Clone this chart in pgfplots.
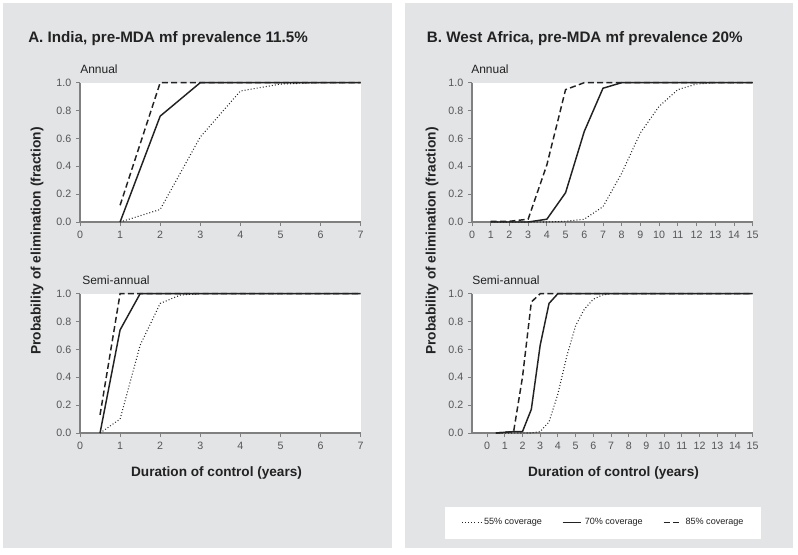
\documentclass[border=0pt]{standalone}
\usepackage{pgfplots}
\pgfplotsset{compat=1.18}
\usepackage{fontspec}
\setmainfont{Liberation Sans}
\definecolor{panelgray}{RGB}{227,228,230}
\definecolor{axgray}{RGB}{128,128,128}
\definecolor{tlgray}{RGB}{85,85,85}
\definecolor{ink}{RGB}{34,34,34}
\pgfplotsset{
  common/.style={
    scale only axis, width=210.5pt, height=104.5pt,
    ymin=0, ymax=1, ytick={0,0.2,0.4,0.6,0.8,1.0},
    yticklabel style={/pgf/number format/.cd, fixed, fixed zerofill, precision=1},
    /pgf/number format/assume math mode=true,
    axis x line*=bottom, axis y line*=left,
    axis line style={axgray, line width=0.8pt, -},
    tick style={axgray, line width=0.6pt},
    tick align=outside, major tick length=3pt,
    ticklabel style={font=\fontsize{8}{9.6}\selectfont, text=tlgray},
    axis background/.style={fill=white},
    clip=false,
  },
  p55/.style={ink, line width=0.8pt, dash pattern=on 0.7pt off 1.6pt},
  p70/.style={ink, line width=1.1pt},
  p85/.style={ink, line width=1.1pt, dash pattern=on 4.5pt off 2.5pt},
}
\begin{document}
\begin{tikzpicture}
\fill[white] (0,0) rectangle (598.5pt,415.5pt);
\fill[panelgray] (2.25pt,4.5pt) rectangle (294pt,413.25pt);
\fill[panelgray] (303.75pt,4.5pt) rectangle (594.75pt,413.25pt);
\fill[white] (333.75pt,11.25pt) rectangle (570.75pt,35.25pt);

% titles
\node[anchor=base west, inner sep=0, text=ink] at (21pt,383.5pt) {\fontsize{11.4}{13}\selectfont\bfseries A. India, pre-MDA mf prevalence 11.5\%};
\node[anchor=base west, inner sep=0, text=ink] at (320pt,383.5pt) {\fontsize{11.4}{13}\selectfont\bfseries B. West Africa, pre-MDA mf prevalence 20\%};
\node[anchor=base west, inner sep=0, text=ink] at (60pt,360pt) {\fontsize{9}{10}\selectfont Annual};
\node[anchor=base west, inner sep=0, text=ink] at (353.25pt,360pt) {\fontsize{9}{10}\selectfont Annual};
\node[anchor=base west, inner sep=0, text=ink] at (61.5pt,202.5pt) {\fontsize{9}{10}\selectfont Semi-annual};
\node[anchor=base west, inner sep=0, text=ink] at (354pt,202.5pt) {\fontsize{9}{10}\selectfont Semi-annual};
\node[rotate=90, inner sep=0, text=ink] at (27.75pt,234.75pt) {\fontsize{10.3}{12}\selectfont\bfseries Probability of elimination (fraction)};
\node[rotate=90, inner sep=0, text=ink] at (324pt,234.75pt) {\fontsize{10.3}{12}\selectfont\bfseries Probability of elimination (fraction)};
\node[inner sep=0, text=ink] at (162.4pt,60.75pt) {\fontsize{10.2}{12}\selectfont\bfseries Duration of control (years)};
\node[inner sep=0, text=ink] at (460.1pt,60.75pt) {\fontsize{10.2}{12}\selectfont\bfseries Duration of control (years)};

% A annual
\begin{axis}[common, at={(60pt,249pt)}, anchor=south west,
  xmin=0, xmax=7, xtick={0,1,...,7}]
\addplot[p55] coordinates {(1,0) (2,0.09) (3,0.61) (4,0.94) (5,0.99) (6,1) (7,1)};
\addplot[p70] coordinates {(1,0) (2,0.76) (3,1) (4,1) (5,1) (6,1) (7,1)};
\addplot[p85] coordinates {(1,0.12) (2,1) (3,1) (4,1) (5,1) (6,1) (7,1)};
\end{axis}

% A semi-annual
\begin{axis}[common, at={(60pt,90.75pt)}, anchor=south west,
  xmin=0, xmax=7, xtick={0,1,...,7}]
\addplot[p55] coordinates {(0.5,0) (1,0.1) (1.5,0.63) (2,0.93) (2.5,0.99) (3,1) (3.5,1) (4,1) (5,1) (6,1) (7,1)};
\addplot[p70] coordinates {(0.5,0) (1,0.74) (1.5,1) (2,1) (3,1) (4,1) (5,1) (6,1) (7,1)};
\addplot[p85] coordinates {(0.5,0.13) (1,1) (1.5,1) (2,1) (3,1) (4,1) (5,1) (6,1) (7,1)};
\end{axis}

% B annual
\begin{axis}[common, at={(354pt,249pt)}, anchor=south west,
  xmin=0, xmax=15, xtick={0,1,...,15}]
\addplot[p55] coordinates {(1,0) (2,0) (3,0) (4,0) (5,0.005) (6,0.02) (7,0.11) (8,0.35) (9,0.64) (10,0.83) (11,0.95) (12,0.99) (13,1) (14,1) (15,1)};
\addplot[p70] coordinates {(1,0) (2,0) (3,0) (4,0.02) (5,0.21) (6,0.65) (7,0.96) (8,1) (9,1) (10,1) (11,1) (12,1) (13,1) (14,1) (15,1)};
\addplot[p85] coordinates {(1,0.005) (2,0.005) (3,0.02) (4,0.41) (5,0.95) (6,1) (7,1) (8,1) (9,1) (10,1) (11,1) (12,1) (13,1) (14,1) (15,1)};
\end{axis}

% B semi-annual
\begin{axis}[common, at={(354pt,90.75pt)}, anchor=south west,
  xmin=-0.85, xmax=15, xtick={0,1,...,15},
  legend style={at={(0.47,-0.643)}, anchor=center, draw=none, fill=none,
    legend columns=3, font=\fontsize{6.8}{8}\selectfont, text=ink,
    /tikz/every even column/.append style={column sep=13pt}},
  legend cell align=left,
  legend image code/.code={\draw[#1] (0pt,0pt) -- (14pt,0pt);}]
\addplot[p55] coordinates {(0.5,0) (1,0) (1.5,0) (2,0) (2.5,0) (3,0.01) (3.5,0.08) (4,0.28) (4.5,0.55) (5,0.77) (5.5,0.89) (6,0.96) (6.5,0.99) (7,1) (8,1) (9,1) (10,1) (11,1) (12,1) (13,1) (14,1) (15,1)};
\addlegendentry{55\% coverage}
\addplot[p70] coordinates {(0.5,0) (1,0.005) (1.5,0.01) (2,0.01) (2.5,0.17) (3,0.63) (3.5,0.93) (4,1) (5,1) (6,1) (7,1) (8,1) (9,1) (10,1) (11,1) (12,1) (13,1) (14,1) (15,1)};
\addlegendentry{70\% coverage}
\addplot[p85] coordinates {(0.5,0) (1,0.005) (1.5,0.01) (2,0.4) (2.5,0.94) (3,1) (4,1) (5,1) (6,1) (7,1) (8,1) (9,1) (10,1) (11,1) (12,1) (13,1) (14,1) (15,1)};
\addlegendentry{85\% coverage}
\end{axis}
\end{tikzpicture}
\end{document}
